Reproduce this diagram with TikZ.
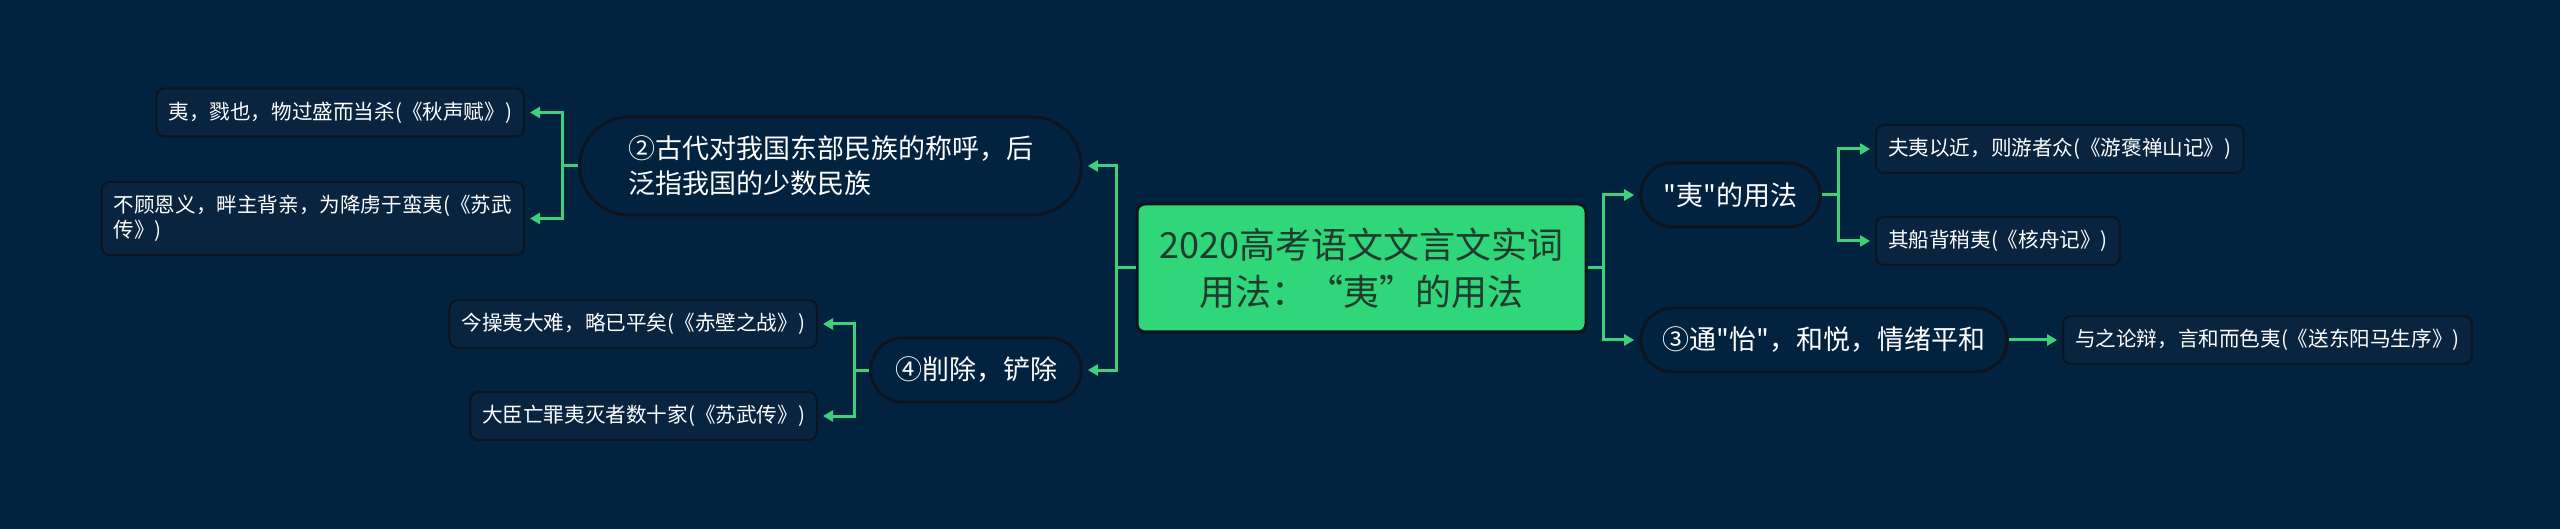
\documentclass[tikz,border=0pt]{standalone}
\usepackage{fontspec}
\setmainfont{Noto Sans CJK SC}[Ligatures=TeXOff]
\usepackage{xcolor}
\definecolor{cBg}{HTML}{02233F}
\definecolor{cLeaf}{HTML}{08243F}
\definecolor{cEdge}{HTML}{0C141E}
\definecolor{cLink}{HTML}{3DD17C}
\definecolor{cRoot}{HTML}{2FD67A}
\definecolor{cRootText}{HTML}{213A2E}
\usetikzlibrary{positioning,arrows.meta,shapes.misc}
\tikzset{
  node-root/.style={draw=cEdge,line width=1.5pt,fill=cRoot,rounded corners=4pt,
    minimum width=224.5pt,minimum height=64pt,align=center,text=cRootText,
    font=\fontsize{18}{23.5}\selectfont},
  node-topic/.style={draw=cEdge,line width=1.5pt,fill=cBg,rounded rectangle,
    minimum height=32pt,align=left,text=white,
    font=\fontsize{13.5}{17.5}\selectfont},
  node-leaf/.style={draw=cEdge,line width=1pt,fill=cLeaf,rounded corners=4pt,
    minimum height=24pt,inner xsep=6pt,align=left,text=white,
    font=\fontsize{10.3}{12.5}\selectfont},
  arrow/.style={-{Triangle[length=5pt,width=5.5pt]},line width=1.5pt,draw=cLink},
}
\begin{document}
\begin{tikzpicture}[x=0.5pt,y=-0.5pt]
  \fill[cBg] (0,0) rectangle (2560,529);
  \useasboundingbox (0,0) rectangle (2560,529);
  % centre
  \node[node-root] (root) at (1361.5,268) {2020高考语文文言文实词\\用法：“夷”的用法};
  % left side
  \node[node-topic,minimum width=257.5pt,minimum height=49pt] (useEast) at (830.5,166)
    {②古代对我国东部民族的称呼，后\\泛指我国的少数民族};
  \node[node-topic,minimum width=112pt] (useWipe) at (976,370) {④削除，铲除};
  \node[node-leaf,anchor=east] (leafQiu) at (525,112.5) {夷，戮也，物过盛而当杀(《秋声赋》)};
  \node[node-leaf,anchor=east,minimum height=36.5pt] (leafSuA) at (525,218.5)
    {不顾恩义，畔主背亲，为降虏于蛮夷(《苏武\\传》)};
  \node[node-leaf,anchor=east] (leafChibi) at (818,324) {今操夷大难，略已平矣(《赤壁之战》)};
  \node[node-leaf,anchor=east] (leafSuB) at (818,416) {大臣亡罪夷灭者数十家(《苏武传》)};
  % right side
  \node[node-topic,minimum width=96.5pt] (usePlain) at (1730.5,195) {"夷"的用法};
  \node[node-topic,minimum width=190pt] (useYi) at (1824,340) {③通"怡"，和悦，情绪平和};
  \node[node-leaf,anchor=west] (leafBao) at (1875,149) {夫夷以近，则游者众(《游褒禅山记》)};
  \node[node-leaf,anchor=west] (leafHe) at (1875,241) {其船背稍夷(《核舟记》)};
  \node[node-leaf,anchor=west] (leafSong) at (2062,340) {与之论辩，言和而色夷(《送东阳马生序》)};
  % links
  \draw[arrow] (root.west) -- ++(-19,0) |- ([xshift=2.5pt]useEast.east);
  \draw[arrow] (root.west) -- ++(-19,0) |- ([xshift=2.5pt]useWipe.east);
  \draw[arrow] (root.east) -- ++(16,0) |- ([xshift=-2.5pt]usePlain.west);
  \draw[arrow] (root.east) -- ++(16,0) |- ([xshift=-2.5pt]useYi.west);
  \draw[arrow] (useEast.west) -- ++(-16,0) |- ([xshift=2.5pt]leafQiu.east);
  \draw[arrow] (useEast.west) -- ++(-16,0) |- ([xshift=2.5pt]leafSuA.east);
  \draw[arrow] (useWipe.west) -- ++(-15,0) |- ([xshift=2.5pt]leafChibi.east);
  \draw[arrow] (useWipe.west) -- ++(-15,0) |- ([xshift=2.5pt]leafSuB.east);
  \draw[arrow] (usePlain.east) -- ++(17,0) |- ([xshift=-2.5pt]leafBao.west);
  \draw[arrow] (usePlain.east) -- ++(17,0) |- ([xshift=-2.5pt]leafHe.west);
  \draw[arrow] (useYi.east) -- ([xshift=-2.5pt]leafSong.west);
\end{tikzpicture}
\end{document}
